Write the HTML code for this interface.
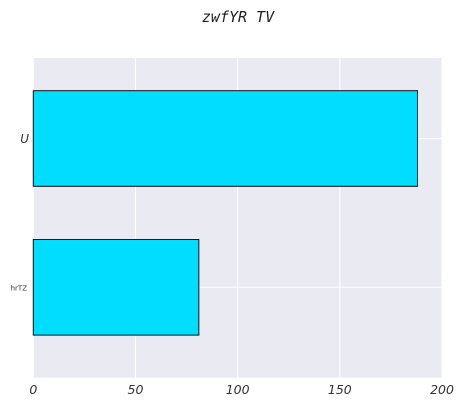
<!DOCTYPE html>
<html><head><meta charset="utf-8"><style>
body{margin:0;background:#fff;}
svg{display:block;font-family:"DejaVu Sans","Liberation Sans",sans-serif;}
</style></head><body>
<svg width="464" height="406">
<text x="238" y="22" text-anchor="middle" font-size="15" font-style="italic" font-family="DejaVu Sans Mono, Liberation Mono, monospace" fill="#222">zwfYR TV</text>
<rect x="33.3" y="58" width="408.7" height="319.7" fill="#eaeaf2"/>
<g id="grid"></g>
<g id="bars"></g>
<g id="xticks"></g>
<g id="yticks"></g>
</svg>
<script>
const categories = ["U", "hrTZ"];
const values = [188, 81];
const xTicks = [0, 50, 100, 150, 200];
const x0 = 33.3, x1 = 442, xMax = 200;
const xs = v => x0 + v / xMax * (x1 - x0);
const catCenter = i => 138.5 + i * 148.8;
const barH = 95.6;
const NS = "http://www.w3.org/2000/svg";
const mk = (t, a, p) => { const e = document.createElementNS(NS, t); for (const k in a) e.setAttribute(k, a[k]); p.appendChild(e); return e; };
const grid = document.getElementById('grid'), bars = document.getElementById('bars'), xt = document.getElementById('xticks'), yt = document.getElementById('yticks');
xTicks.forEach(v => {
  const l = mk('line', {x1: xs(v), x2: xs(v), y1: 58, y2: 377.7, stroke: '#fff', 'stroke-width': 1}, grid);
  
  
  const t = mk('text', {x: xs(v), y: 394, 'text-anchor': 'middle', 'font-size': 12.5, 'font-style': 'italic', fill: '#333'}, xt);
  t.textContent = v;
  
  
});
categories.forEach((c, i) => {
  const cy = catCenter(i);
  const g = mk('line', {x1: x0, x2: x1, y1: cy, y2: cy, stroke: '#fff', 'stroke-width': 1}, grid);
  
  
  const r = mk('rect', {x: xs(0), y: cy - barH / 2, width: xs(values[i]) - xs(0), height: barH, fill: '#00ddff', stroke: '#111', 'stroke-width': 1}, bars);
  
  
  const small = c.length > 1;
  const t = mk('text', {x: small ? 27 : 29, y: cy + (small ? 3 : 4.5), 'text-anchor': 'end', 'font-size': small ? 7 : 12, 'font-style': small ? 'normal' : 'italic', fill: '#333'}, yt);
  t.textContent = c;
  
  
});
</script>
</body></html>
